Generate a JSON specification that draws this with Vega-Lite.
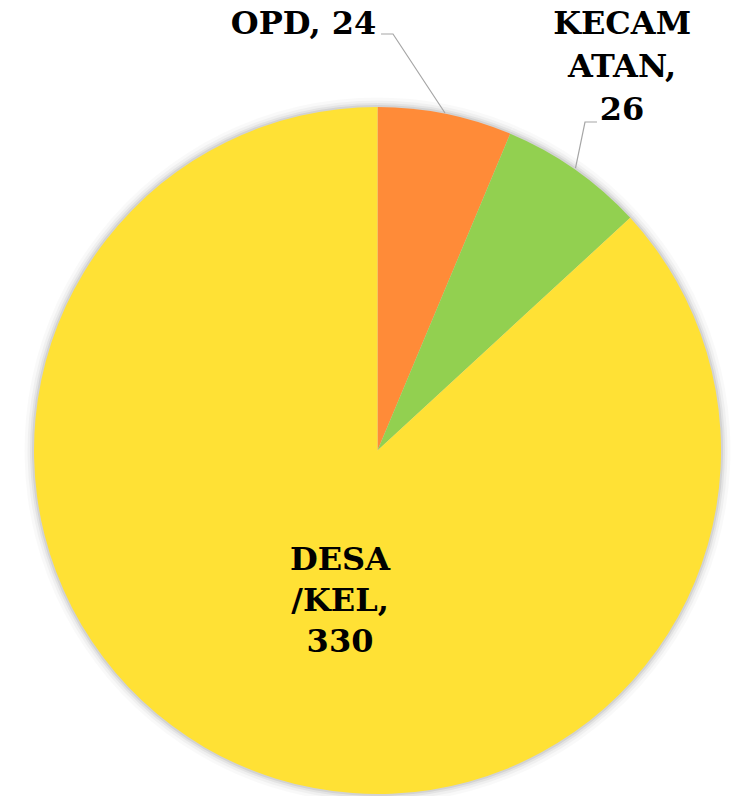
{
  "$schema": "https://vega.github.io/schema/vega-lite/v6.json",
  "autosize": {"type": "none"},
  "padding": {"left": 34, "top": 107, "right": 10, "bottom": 2},
  "width": 687,
  "height": 687,
  "background": "white",
  "config": {"view": {"stroke": null}},
  "datasets": {
    "slices": [
      {"category": "OPD", "value": 24, "label": "OPD, 24"},
      {"category": "KECAMATAN", "value": 26, "label": "KECAM\nATAN,\n26"},
      {"category": "DESA/KEL", "value": 330, "label": "DESA\n/KEL,\n330"}
    ],
    "leaders": [
      {"line": "OPD", "i": 0, "px": 0.0102, "py": 1.2125},
      {"line": "OPD", "i": 1, "px": 0.0451, "py": 1.2125},
      {"line": "OPD", "i": 2, "px": 0.1965, "py": 0.9825},
      {"line": "KECAMATAN", "i": 0, "px": 0.639, "py": 0.9563},
      {"line": "KECAMATAN", "i": 1, "px": 0.6041, "py": 0.9563},
      {"line": "KECAMATAN", "i": 2, "px": 0.5764, "py": 0.8224}
    ]
  },
  "data": {"name": "slices"},
  "transform": [
    {"stack": "value", "groupby": [], "sort": [{"field": "value", "order": "ascending"}], "as": ["t0", "t1"]}
  ],
  "layer": [
    {"mark": {"type": "arc", "radius": 353, "color": "#000000", "opacity": 0.025}, "encoding": {"theta": {"field": "t0", "type": "quantitative", "scale": {"domain": [0, 380]}}, "theta2": {"field": "t1"}}},
    {"mark": {"type": "arc", "radius": 350, "color": "#000000", "opacity": 0.035}, "encoding": {"theta": {"field": "t0", "type": "quantitative"}, "theta2": {"field": "t1"}}},
    {"mark": {"type": "arc", "radius": 347.5, "color": "#000000", "opacity": 0.05}, "encoding": {"theta": {"field": "t0", "type": "quantitative"}, "theta2": {"field": "t1"}}},
    {"mark": {"type": "arc", "radius": 345.5, "color": "#000000", "opacity": 0.07}, "encoding": {"theta": {"field": "t0", "type": "quantitative"}, "theta2": {"field": "t1"}}},
    {
      "mark": {"type": "arc", "radius": 343.5},
      "encoding": {
        "theta": {"field": "t0", "type": "quantitative"},
        "theta2": {"field": "t1"},
        "color": {"field": "category", "type": "nominal", "scale": {"domain": ["OPD", "KECAMATAN", "DESA/KEL"], "range": ["#FF8B38", "#92D050", "#FFE135"]}, "legend": null}
      }
    },
    {
      "data": {"name": "leaders"},
      "transform": [],
      "mark": {"type": "line", "color": "#A6A6A6", "strokeWidth": 1.2},
      "encoding": {
        "x": {"field": "px", "type": "quantitative", "scale": {"domain": [-1, 1], "nice": false, "zero": false}, "axis": null},
        "y": {"field": "py", "type": "quantitative", "scale": {"domain": [-1, 1], "nice": false, "zero": false}, "axis": null},
        "detail": {"field": "line"},
        "order": {"field": "i"}
      }
    },
    {
      "transform": [{"filter": "datum.category === 'OPD'"}],
      "mark": {"type": "text", "radius": 426, "dx": -74, "dy": -1, "font": "DejaVu Serif", "fontWeight": "bold", "fontSize": 32, "align": "center", "baseline": "middle", "color": "#000000"},
      "encoding": {"theta": {"field": "t0", "type": "quantitative"}, "text": {"field": "label"}}
    },
    {
      "transform": [{"filter": "datum.category === 'KECAMATAN'"}],
      "mark": {"type": "text", "radius": 400, "dx": 90, "dy": -58, "font": "DejaVu Serif", "fontWeight": "bold", "fontSize": 32, "align": "center", "baseline": "middle", "lineBreak": "\n", "lineHeight": 43, "color": "#000000"},
      "encoding": {"theta": {"field": "t0", "type": "quantitative"}, "text": {"field": "label"}}
    },
    {
      "transform": [{"filter": "datum.category === 'DESA/KEL'"}],
      "mark": {"type": "text", "radius": 0, "dx": -37.5, "dy": 109, "font": "DejaVu Serif", "fontWeight": "bold", "fontSize": 32, "align": "center", "baseline": "middle", "lineBreak": "\n", "lineHeight": 41, "color": "#000000"},
      "encoding": {"theta": {"field": "t0", "type": "quantitative"}, "text": {"field": "label"}}
    }
  ]
}
